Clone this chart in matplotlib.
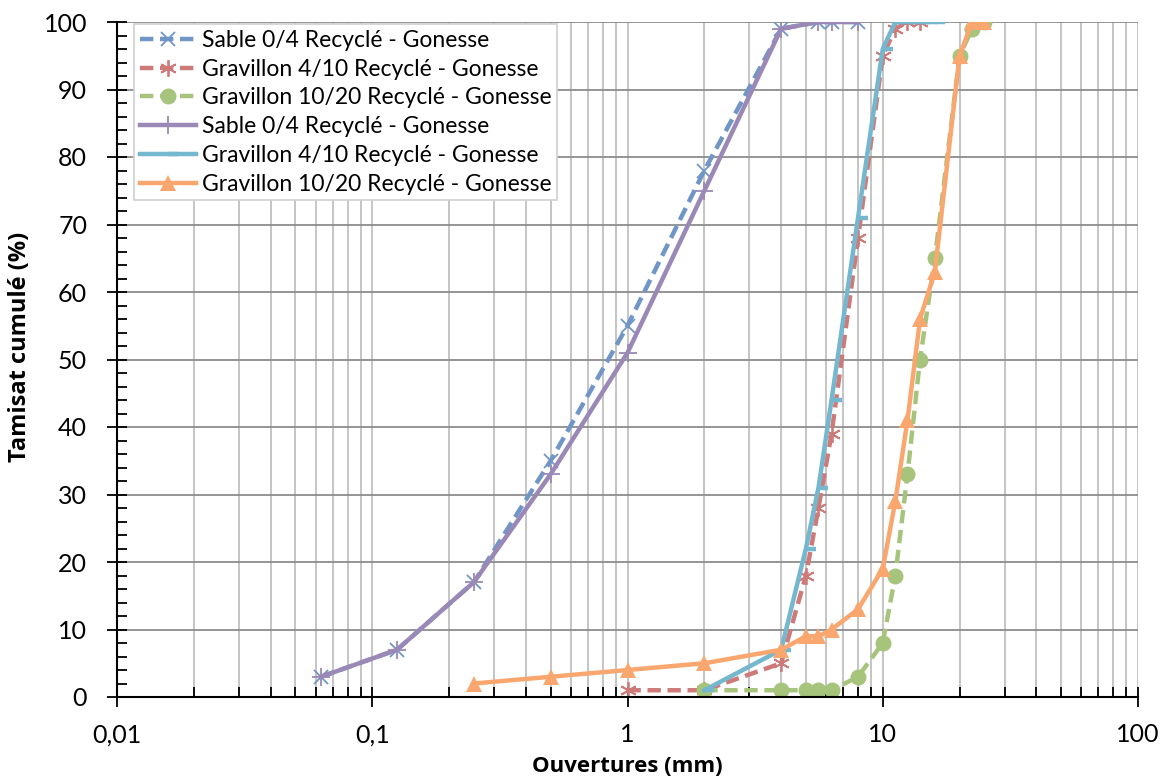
import matplotlib.pyplot as plt
from matplotlib.path import Path
from matplotlib.ticker import FixedLocator, FuncFormatter, LogLocator, MultipleLocator, NullFormatter

plt.rcParams['font.family'] = ['Lato', 'DejaVu Sans']

# Sieve data (opening in mm, cumulative passing in %)
sable_x = [0.063, 0.125, 0.25, 0.5, 1, 2, 4, 5.6, 6.3, 8]
sable_a = [3, 7, 17, 35, 55, 78, 99, 100, 100, 100]
sable_b = [3, 7, 17, 33, 51, 75, 99, 100, 100, 100]

g410_a_x = [1, 2, 4, 5, 5.6, 6.3, 8, 10, 11.2, 12.5, 14]
g410_a = [1, 1, 5, 18, 28, 39, 68, 95, 99, 100, 100]
g410_b_x = [2, 4, 5, 5.6, 6.3, 8, 10, 11.2, 12.5, 14, 16]
g410_b = [1, 7, 22, 31, 44, 71, 96, 100, 100, 100, 100]

g1020_a_x = [2, 4, 5, 5.6, 6.3, 8, 10, 11.2, 12.5, 14, 16, 20, 22.4, 25]
g1020_a = [1, 1, 1, 1, 1, 3, 8, 18, 33, 50, 65, 95, 99, 100]
g1020_b_x = [0.25, 0.5, 1, 2, 4, 5, 5.6, 6.3, 8, 10, 11.2, 12.5, 14, 16, 20, 22.4, 25]
g1020_b = [2, 3, 4, 5, 7, 9, 9, 10, 13, 19, 29, 41, 56, 63, 95, 100, 100]

lbl_sable = 'Sable 0/4 Recyclé - Gonesse'
lbl_g410 = 'Gravillon 4/10 Recyclé - Gonesse'
lbl_g1020 = 'Gravillon 10/20 Recyclé - Gonesse'

# short dash starting at the point, going right (like the excel "dash" marker)
dash_marker = Path([[0, 0], [1, 0]], [Path.MOVETO, Path.LINETO])

fig = plt.figure(figsize=(11.71, 7.8), dpi=100)
ax = fig.add_axes([117 / 1171, 1 - 697 / 780, 1021 / 1171, 675 / 780])

lw = 3.2
dashes = (0, (3, 1.5))
ax.plot(sable_x, sable_a, color='#7096c8', lw=lw, ls=dashes, marker='x',
        ms=10, mew=1.3, label=lbl_sable)
ax.plot(g410_a_x, g410_a, color='#cd7a78', lw=lw, ls=dashes, marker=(6, 2, 0),
        ms=12, mew=1.3, label=lbl_g410)
ax.plot(g1020_a_x, g1020_a, color='#a6c47c', lw=lw, ls=dashes, marker='o',
        ms=11.5, mew=0, label=lbl_g1020)
ax.plot(sable_x, sable_b, color='#9a89b6', lw=lw, marker='+',
        ms=13, mew=1.3, label=lbl_sable)
ax.plot(g410_b_x, g410_b, color='#74b7cf', lw=lw, marker=dash_marker,
        ms=14, mew=3.2, label=lbl_g410)
ax.plot(g1020_b_x, g1020_b, color='#f9a66f', lw=lw, marker='^',
        ms=11.5, mew=0, label=lbl_g1020)

ax.set_xscale('log')
ax.set_xlim(0.01, 100)
ax.set_ylim(0, 100)

ax.xaxis.set_major_locator(FixedLocator([0.01, 0.1, 1, 10, 100]))
ax.xaxis.set_minor_locator(LogLocator(base=10, subs=range(2, 10), numticks=20))
ax.xaxis.set_minor_formatter(NullFormatter())
ax.xaxis.set_major_formatter(FuncFormatter(lambda v, p: ('%g' % v).replace('.', ',')))
ax.yaxis.set_major_locator(MultipleLocator(10))
ax.yaxis.set_minor_locator(MultipleLocator(2))

ax.grid(True, which='major', axis='y', color='#8c8c8c', lw=1.3)
ax.grid(True, which='both', axis='x', color='#c0c0c0', lw=1.3)
ax.set_axisbelow(True)

for s in ['top', 'right']:
    ax.spines[s].set_visible(False)
for s in ['left', 'bottom']:
    ax.spines[s].set_linewidth(1.5)

ax.tick_params(which='major', direction='inout', length=14, width=1.3, labelsize=18)
ax.tick_params(which='minor', direction='in', length=7, width=1.3)
ax.tick_params(axis='x', which='major', pad=12)
ax.tick_params(axis='y', which='major', pad=14.5)

ax.set_xlabel('Ouvertures (mm)', fontsize=16, fontweight='bold',
              family=['Open Sans', 'DejaVu Sans'])
ax.set_ylabel('Tamisat cumulé (%)', fontsize=17, fontweight='bold',
              family=['Open Sans', 'DejaVu Sans'])
ax.xaxis.set_label_coords(0.4995, -0.088)
ax.yaxis.set_label_coords(-0.083, 0.519)

leg = ax.legend(loc='upper left', bbox_to_anchor=(0.0167, 0.997), fontsize=16.5,
                handlelength=2.45, handletextpad=0.27, labelspacing=0.34,
                borderpad=0.25, borderaxespad=0, fancybox=False, framealpha=1)
leg.get_frame().set_edgecolor('#d0d0d0')
leg.get_frame().set_linewidth(1.2)

fig.savefig('out.png', dpi=100)
